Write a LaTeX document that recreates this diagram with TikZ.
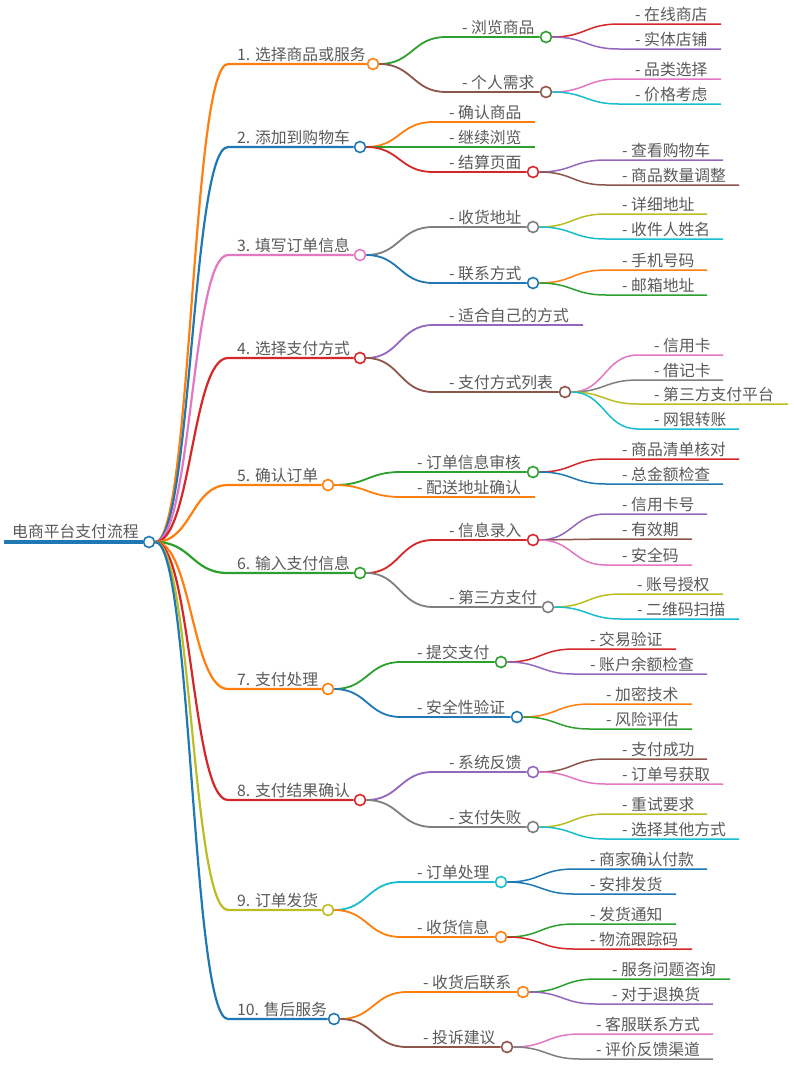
\documentclass[tikz,border=0pt]{standalone}
\usepackage{fontspec}
\setmainfont{Noto Sans CJK SC}
\usetikzlibrary{calc}
\definecolor{cblue}{HTML}{1F77B4}
\definecolor{corange}{HTML}{FF7F0E}
\definecolor{cgreen}{HTML}{2CA02C}
\definecolor{cred}{HTML}{D62728}
\definecolor{cpurple}{HTML}{9467BD}
\definecolor{cbrown}{HTML}{8C564B}
\definecolor{cpink}{HTML}{E377C2}
\definecolor{cgray}{HTML}{7F7F7F}
\definecolor{colive}{HTML}{BCBD22}
\definecolor{ccyan}{HTML}{17BECF}
\definecolor{txtc}{HTML}{5A5A5A}
\tikzset{
  txt/.style={inner sep=0pt, font=\fontsize{15.8}{18}\selectfont, text=txtc},
  dot/.style={circle, fill=white, line width=1.6pt, minimum size=11pt, inner sep=0pt},
}
% level-1 branch: name, colour, circle x, y, text
\newcommand\mmbranch[5]{%
  \coordinate (#1s) at (228,#4);
  \coordinate (#1m) at ($(R.east)!0.5!(#1s)$);
  \node[txt, anchor=base west] (#1t) at ([shift={(9pt,3.5pt)}]#1s) {#5};
  \node[dot, draw=#2] (#1) at (#3,#4) {};
  \draw[#2, line width=2.2pt] (R.east) .. controls (#1m |- R.east) and (#1m |- #1s) .. (#1s) -- (#1.west);
}
% common part: name, parent, y, text
\newcommand\mmpre[4]{%
  \coordinate (#1y) at (0,#3);
  \coordinate (#1h) at ($(#2)+(73,0)$);
  \coordinate (#1s) at (#1h |- #1y);
  \coordinate (#1m) at ($(#2.east)!0.5!(#1s)$);
  \node[txt, anchor=base west] (#1t) at ([shift={(16pt,4pt)}]#1s) {#4};
}
% child with circle: name, parent, colour, x end, y, text, width
\newcommand\mmdot[7]{%
  \mmpre{#1}{#2}{#5}{#6}
  \node[dot, draw=#3] (#1) at (#4,#5) {};
  \draw[#3, line width=#7] (#2.east) .. controls (#1m |- #2.east) and (#1m |- #1s) .. (#1s) -- (#1.west);
}
% leaf child: name, parent, colour, x end, y, text, width
\newcommand\mmleaf[7]{%
  \mmpre{#1}{#2}{#5}{#6}
  \coordinate (#1) at (#4,#5);
  \draw[#3, line width=#7] (#2.east) .. controls (#1m |- #2.east) and (#1m |- #1s) .. (#1s) -- (#1);
}
\begin{document}
\begin{tikzpicture}[x=1pt,y=-1pt]
\useasboundingbox (0,0) rectangle (794,1090);
\fill[white] (0,0) rectangle (794,1090);
% root
\node[dot, draw=cblue] (R) at (149,542) {};
\coordinate (R0) at (4,542);
\draw[cblue, line width=4pt] (R0) -- (R.west);
\node[txt, anchor=base west] (Rt) at (12,537.5) {电商平台支付流程};
% level 1
\mmbranch{b1}{corange}{373}{64}{1. 选择商品或服务}
\mmbranch{b2}{cblue}{360}{147}{2. 添加到购物车}
\mmbranch{b3}{cpink}{360}{255}{3. 填写订单信息}
\mmbranch{b4}{cred}{360}{358}{4. 选择支付方式}
\mmbranch{b5}{corange}{328}{485}{5. 确认订单}
\mmbranch{b6}{cgreen}{360}{573}{6. 输入支付信息}
\mmbranch{b7}{corange}{328}{689}{7. 支付处理}
\mmbranch{b8}{cred}{360}{800}{8. 支付结果确认}
\mmbranch{b9}{colive}{328}{910}{9. 订单发货}
\mmbranch{b10}{cblue}{334}{1019}{10. 售后服务}
% branch 1
\mmdot{b1a}{b1}{cgreen}{546}{37}{- 浏览商品}{1.8pt}
\mmdot{b1b}{b1}{cbrown}{546}{92}{- 个人需求}{1.8pt}
\mmleaf{b1a1}{b1a}{cred}{721}{24}{- 在线商店}{1.5pt}
\mmleaf{b1a2}{b1a}{cpurple}{721}{49}{- 实体店铺}{1.5pt}
\mmleaf{b1b1}{b1b}{cpink}{721}{79}{- 品类选择}{1.5pt}
\mmleaf{b1b2}{b1b}{ccyan}{721}{104}{- 价格考虑}{1.5pt}
% branch 2
\mmleaf{b2a}{b2}{corange}{535}{122}{- 确认商品}{1.8pt}
\mmleaf{b2b}{b2}{cgreen}{535}{147}{- 继续浏览}{1.8pt}
\mmdot{b2c}{b2}{cred}{533}{172}{- 结算页面}{1.8pt}
\mmleaf{b2c1}{b2c}{cpurple}{723}{160}{- 查看购物车}{1.5pt}
\mmleaf{b2c2}{b2c}{cbrown}{739}{185}{- 商品数量调整}{1.5pt}
% branch 3
\mmdot{b3a}{b3}{cgray}{533}{227}{- 收货地址}{1.8pt}
\mmdot{b3b}{b3}{cblue}{533}{283}{- 联系方式}{1.8pt}
\mmleaf{b3a1}{b3a}{colive}{707}{214}{- 详细地址}{1.5pt}
\mmleaf{b3a2}{b3a}{ccyan}{723}{239}{- 收件人姓名}{1.5pt}
\mmleaf{b3b1}{b3b}{corange}{707}{270}{- 手机号码}{1.5pt}
\mmleaf{b3b2}{b3b}{cgreen}{707}{295}{- 邮箱地址}{1.5pt}
% branch 4
\mmleaf{b4a}{b4}{cpurple}{583}{325}{- 适合自己的方式}{1.8pt}
\mmdot{b4b}{b4}{cbrown}{565}{392}{- 支付方式列表}{1.8pt}
\mmleaf{b4b1}{b4b}{cpink}{723}{355}{- 信用卡}{1.5pt}
\mmleaf{b4b2}{b4b}{cgray}{723}{380}{- 借记卡}{1.5pt}
\mmleaf{b4b3}{b4b}{colive}{788}{404}{- 第三方支付平台}{1.5pt}
\mmleaf{b4b4}{b4b}{ccyan}{739}{429}{- 网银转账}{1.5pt}
% branch 5
\mmdot{b5a}{b5}{cgreen}{533}{472}{- 订单信息审核}{1.8pt}
\mmleaf{b5b}{b5}{corange}{535}{497}{- 配送地址确认}{1.8pt}
\mmleaf{b5a1}{b5a}{cred}{739}{459}{- 商品清单核对}{1.5pt}
\mmleaf{b5a2}{b5a}{cblue}{723}{484}{- 总金额检查}{1.5pt}
% branch 6
\mmdot{b6a}{b6}{cred}{533}{540}{- 信息录入}{1.8pt}
\mmdot{b6b}{b6}{cgray}{548}{607}{- 第三方支付}{1.8pt}
\mmleaf{b6a1}{b6a}{cpurple}{707}{514}{- 信用卡号}{1.5pt}
\mmleaf{b6a2}{b6a}{cbrown}{692}{539}{- 有效期}{1.5pt}
\mmleaf{b6a3}{b6a}{cpink}{692}{565}{- 安全码}{1.5pt}
\mmleaf{b6b1}{b6b}{colive}{723}{594}{- 账号授权}{1.5pt}
\mmleaf{b6b2}{b6b}{ccyan}{739}{619}{- 二维码扫描}{1.5pt}
% branch 7
\mmdot{b7a}{b7}{cgreen}{501}{662}{- 提交支付}{1.8pt}
\mmdot{b7b}{b7}{cblue}{517}{717}{- 安全性验证}{1.8pt}
\mmleaf{b7a1}{b7a}{cred}{676}{649}{- 交易验证}{1.5pt}
\mmleaf{b7a2}{b7a}{cpurple}{707}{674}{- 账户余额检查}{1.5pt}
\mmleaf{b7b1}{b7b}{corange}{692}{704}{- 加密技术}{1.5pt}
\mmleaf{b7b2}{b7b}{cgreen}{692}{729}{- 风险评估}{1.5pt}
% branch 8
\mmdot{b8a}{b8}{cpurple}{533}{772}{- 系统反馈}{1.8pt}
\mmdot{b8b}{b8}{cgray}{533}{827}{- 支付失败}{1.8pt}
\mmleaf{b8a1}{b8a}{cbrown}{707}{759}{- 支付成功}{1.5pt}
\mmleaf{b8a2}{b8a}{cpink}{723}{784}{- 订单号获取}{1.5pt}
\mmleaf{b8b1}{b8b}{colive}{707}{814}{- 重试要求}{1.5pt}
\mmleaf{b8b2}{b8b}{ccyan}{739}{839}{- 选择其他方式}{1.5pt}
% branch 9
\mmdot{b9a}{b9}{ccyan}{501}{882}{- 订单处理}{1.8pt}
\mmdot{b9b}{b9}{corange}{501}{937}{- 收货信息}{1.8pt}
\mmleaf{b9a1}{b9a}{cblue}{707}{869}{- 商家确认付款}{1.5pt}
\mmleaf{b9a2}{b9a}{cblue}{676}{894}{- 安排发货}{1.5pt}
\mmleaf{b9b1}{b9b}{cgreen}{676}{924}{- 发货通知}{1.5pt}
\mmleaf{b9b2}{b9b}{cred}{692}{949}{- 物流跟踪码}{1.5pt}
% branch 10
\mmdot{b10a}{b10}{corange}{523}{992}{- 收货后联系}{1.8pt}
\mmdot{b10b}{b10}{cbrown}{507}{1047}{- 投诉建议}{1.8pt}
\mmleaf{b10a1}{b10a}{cgreen}{730}{979}{- 服务问题咨询}{1.5pt}
\mmleaf{b10a2}{b10a}{cpurple}{713}{1004}{- 对于退换货}{1.5pt}
\mmleaf{b10b1}{b10b}{cpink}{713}{1034}{- 客服联系方式}{1.5pt}
\mmleaf{b10b2}{b10b}{cgray}{713}{1059}{- 评价反馈渠道}{1.5pt}
\end{tikzpicture}
\end{document}
